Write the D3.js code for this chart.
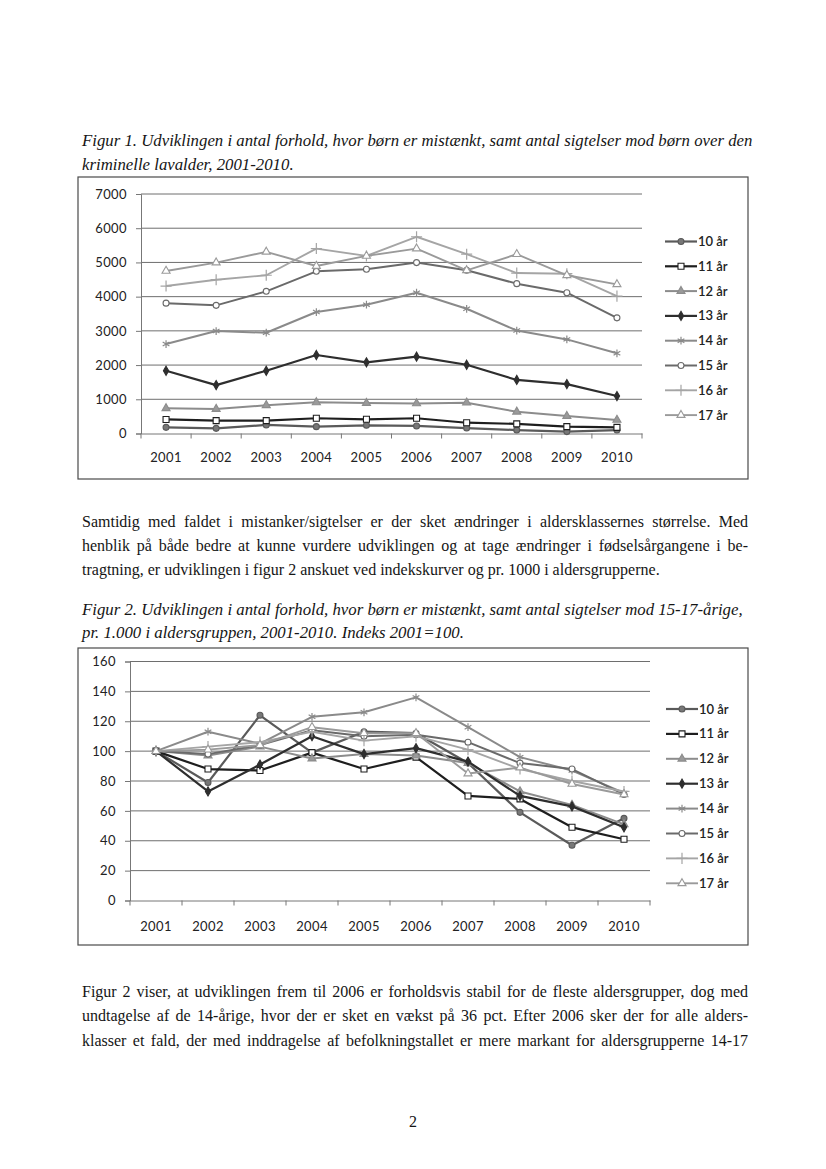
<!DOCTYPE html>
<html><head><meta charset="utf-8">
<script src="https://cdn.jsdelivr.net/npm/d3@7"></script>
<style>
body{margin:0;background:#fff;width:826px;height:1169px;overflow:hidden;position:relative;font-family:"Liberation Serif","Times New Roman",serif;color:#151515}
.ln{position:absolute;left:82px;width:666px;font-size:16px;line-height:24px;white-space:nowrap;}
.j{text-align:justify;text-align-last:justify;}
.i{font-style:italic;font-size:16.8px}
svg{position:absolute;left:0;top:0}
</style></head><body>
<svg id="c" width="826" height="1169"></svg>
<div id="txt"></div>
<script>
// ---------- DATA ----------
const years = ["2001","2002","2003","2004","2005","2006","2007","2008","2009","2010"];
const seriesNames = ["10 år","11 år","12 år","13 år","14 år","15 år","16 år","17 år"];

// Figure 1: number of cases
const count10 = [180, 150, 250, 200, 240, 220, 160, 100, 55, 100];
const count11 = [410, 375, 375, 445, 415, 445, 315, 280, 200, 180];
const count12 = [735, 715, 825, 910, 890, 880, 900, 635, 510, 395];
const count13 = [1835, 1415, 1835, 2295, 2080, 2245, 2010, 1565, 1445, 1095];
const count14 = [2615, 2995, 2945, 3550, 3765, 4115, 3645, 3010, 2750, 2345];
const count15 = [3810, 3745, 4155, 4740, 4800, 4995, 4770, 4380, 4115, 3380];
const count16 = [4310, 4495, 4625, 5405, 5190, 5750, 5240, 4690, 4670, 4015];
const count17 = [4750, 4995, 5310, 4895, 5190, 5405, 4770, 5240, 4625, 4360];
const yTicks1 = [0, 1000, 2000, 3000, 4000, 5000, 6000, 7000];

// Figure 2: index 2001=100
const index10 = [100, 79, 124, 99, 113, 112, 92, 59, 37, 55];
const index11 = [100, 88, 87, 99, 88, 96, 70, 68, 49, 41];
const index12 = [100, 97, 103, 95, 98, 97, 92, 73, 64, 51];
const index13 = [100, 73, 91, 110, 98, 102, 93, 70, 63, 49];
const index14 = [100, 113, 105, 123, 126, 136, 116, 96, 87, 72];
const index15 = [100, 98, 104, 114, 110, 111, 106, 92, 88, 71];
const index16 = [100, 103, 106, 113, 107, 110, 101, 88, 80, 73];
const index17 = [100, 101, 104, 116, 112, 112, 85, 89, 78, 71];
const yTicks2 = [0, 20, 40, 60, 80, 100, 120, 140, 160];

// ---------- STYLES ----------
const styles = [
  {color:"#5a5a5a", mark:"circle", fill:"#777777", w:2.2},
  {color:"#1e1e1e", mark:"square", fill:"#ffffff", w:2.2},
  {color:"#8c8c8c", mark:"triangle", fill:"#9a9a9a", w:2.0},
  {color:"#2e2e2e", mark:"diamond", fill:"#2e2e2e", w:2.2},
  {color:"#8a8a8a", mark:"asterisk", fill:"none", w:2.0},
  {color:"#6a6a6a", mark:"ocircle", fill:"#ffffff", w:2.0},
  {color:"#a5a5a5", mark:"plus", fill:"none", w:1.9},
  {color:"#9a9a9a", mark:"otriangle", fill:"#ffffff", w:1.9}
];

const svg = d3.select("#c");
const font = "Lato, 'Open Sans', sans-serif";

function symbolPath(mark){
  const map = {
    circle: d3.symbolCircle, ocircle: d3.symbolCircle, square: d3.symbolSquare,
    triangle: d3.symbolTriangle, otriangle: d3.symbolTriangle, diamond: d3.symbolDiamond,
    asterisk: d3.symbolAsterisk || d3.symbolCross, plus: d3.symbolPlus || d3.symbolCross
  };
  const size = {circle:28, ocircle:28, square:36, triangle:28, otriangle:28, diamond:24, asterisk:42, plus:42}[mark];
  return d3.symbol().type(map[mark]).size(size)();
}
function drawMarker(g, mark, st, x, y){
  const stroke = (mark==="asterisk"||mark==="plus");
  g.append("path").attr("d", symbolPath(mark))
    .attr("transform", `translate(${x},${y})`)
    .attr("fill", stroke ? "none" : st.fill)
    .attr("stroke", st.color).attr("stroke-width", stroke?1.2:1.1);
}

function chart(cfg){
  const g = svg.append("g");
  g.append("rect").attr("x",cfg.box[0]).attr("y",cfg.box[1]).attr("width",cfg.box[2]).attr("height",cfg.box[3])
    .attr("fill","none").attr("stroke","#4a4a4a").attr("stroke-width",1.2);
  const x = d3.scaleBand().domain(years).range([cfg.left, cfg.right]).padding(0);
  const y = d3.scaleLinear().domain([0, cfg.max]).range([cfg.bottom, cfg.top]);
  g.append("g").selectAll("line").data(cfg.ticks.filter(d=>d>0)).join("line")
    .attr("x1",cfg.left).attr("x2",cfg.right).attr("y1",d=>y(d)).attr("y2",d=>y(d))
    .attr("stroke","#6e6e6e").attr("stroke-width",1);
  const ya = g.append("g").attr("transform",`translate(${cfg.left},0)`)
    .call(d3.axisLeft(y).tickValues(cfg.ticks).tickSize(5).tickPadding(cfg.ypad).tickFormat(d3.format("d")));
  ya.select(".domain").attr("stroke","#777");
  ya.selectAll(".tick line").attr("stroke","#777");
  ya.selectAll("text").attr("font-family",font).attr("font-size",13).attr("fill","#222").attr("letter-spacing",0.4);
  const xa = g.append("g").attr("transform",`translate(0,${cfg.bottom})`)
    .call(d3.axisBottom(x).tickSize(0).tickPadding(cfg.xpad));
  xa.select(".domain").attr("stroke","#777");
  xa.selectAll("text").attr("font-family",font).attr("font-size",13).attr("fill","#222").attr("letter-spacing",0.4);
  const edges = years.map(d=>x(d)).concat([cfg.right]);
  g.append("g").selectAll("line").data(edges).join("line")
    .attr("x1",d=>d).attr("x2",d=>d).attr("y1",cfg.bottom).attr("y2",cfg.bottom+5)
    .attr("stroke","#777");
  const line = d3.line().x((d,i)=>x(years[i])+x.bandwidth()/2).y(d=>y(d));
  cfg.data.forEach((arr,k)=>{
    const st = styles[k];
    g.append("path").attr("d", line(arr)).attr("fill","none").attr("stroke",st.color)
      .attr("stroke-width",st.w).attr("stroke-linejoin","round");
    const mg = g.append("g");
    arr.forEach((v,i)=> drawMarker(mg, st.mark, st, x(years[i])+x.bandwidth()/2, y(v)));
  });
  const lg = g.append("g");
  seriesNames.forEach((name,k)=>{
    const st = styles[k];
    const ly = cfg.legY + k*cfg.legStep;
    lg.append("line").attr("x1",cfg.legX).attr("x2",cfg.legX+32).attr("y1",ly).attr("y2",ly)
      .attr("stroke",st.color).attr("stroke-width",st.w);
    drawMarker(lg, st.mark, st, cfg.legX+16, ly);
    lg.append("text").attr("x",cfg.legX+33).attr("y",ly).attr("dy","0.35em")
      .attr("font-family",font).attr("font-size",13).attr("font-weight",600).attr("fill","#222").text(name);
  });
}

chart({box:[78,177,670,302], left:141, right:642, top:194, bottom:433.5, max:7000, ticks:yTicks1,
  ypad:9, xpad:19, data:[count10,count11,count12,count13,count14,count15,count16,count17],
  legX:665, legY:241.5, legStep:24.8});
chart({box:[78,648,670,297], left:130, right:650, top:661.5, bottom:900.5, max:160, ticks:yTicks2,
  ypad:9, xpad:21, data:[index10,index11,index12,index13,index14,index15,index16,index17],
  legX:666, legY:709, legStep:24.9});

// ---------- TEXT ----------
const lines = [
  {y:141, c:"i", t:"Figur 1. Udviklingen i antal forhold, hvor børn er mistænkt, samt antal sigtelser mod børn over den"},
  {y:165, c:"i", t:"kriminelle lavalder, 2001-2010."},
  {y:522, c:"j", t:"Samtidig med faldet i mistanker/sigtelser er der sket ændringer i aldersklassernes størrelse. Med"},
  {y:546, c:"j", t:"henblik på både bedre at kunne vurdere udviklingen og at tage ændringer i fødselsårgangene i be-"},
  {y:570, c:"", t:"tragtning, er udviklingen i figur 2 anskuet ved indekskurver og pr. 1000 i aldersgrupperne."},
  {y:610, c:"i", t:"Figur 2. Udviklingen i antal forhold, hvor børn er mistænkt, samt antal sigtelser mod 15-17-årige,"},
  {y:633, c:"i", t:"pr. 1.000 i aldersgruppen, 2001-2010. Indeks 2001=100."},
  {y:992, c:"j", t:"Figur 2 viser, at udviklingen frem til 2006 er forholdsvis stabil for de fleste aldersgrupper, dog med"},
  {y:1016, c:"j", t:"undtagelse af de 14-årige, hvor der er sket en vækst på 36 pct. Efter 2006 sker der for alle alders-"},
  {y:1041, c:"j", t:"klasser et fald, der med inddragelse af befolkningstallet er mere markant for aldersgrupperne 14-17"}
];
const tx = d3.select("#txt");
lines.forEach(l=>{
  tx.append("div").attr("class","ln "+l.c).style("top",(l.y-12)+"px").text(l.t);
});
tx.append("div").style("position","absolute").style("left","0").style("width","826px")
  .style("text-align","center").style("top","1110px").style("font-size","16px").style("line-height","24px").text("2");
</script>
</body></html>
